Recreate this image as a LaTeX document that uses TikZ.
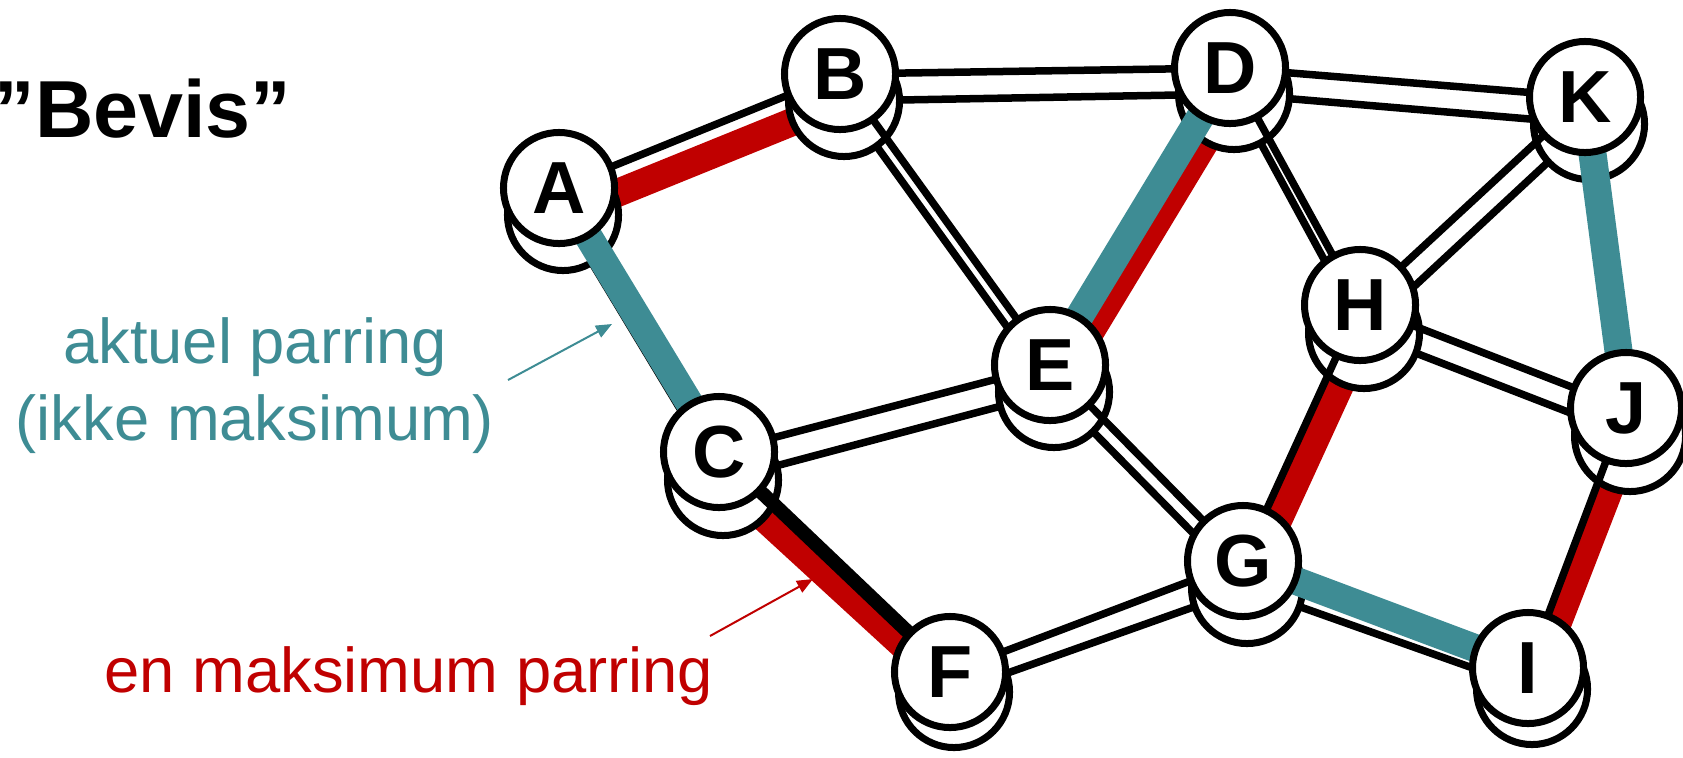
\documentclass[tikz,border=0pt]{standalone}
\usepackage{fontspec}
\setmainfont{Liberation Sans}
\usetikzlibrary{arrows.meta}
\definecolor{tealm}{RGB}{62,140,148}
\definecolor{redm}{RGB}{192,0,0}
\tikzset{
  vertex/.style={circle, draw, line width=0.07cm, fill=white, minimum size=1.11cm,
    inner sep=0pt, font=\bfseries\fontsize{21}{21}\selectfont},
  edge/.style={line width=0.075cm},
  curmatch/.style={line width=0.28cm, draw=tealm},
  maxmatch/.style={line width=0.28cm, draw=redm},
  pointer/.style={line width=0.02cm, -{Triangle[length=0.16cm,width=0.13cm]}},
  note/.style={inner sep=0pt, font=\fontsize{18}{18}\selectfont}
}
\begin{document}
\begin{tikzpicture}[x=0.01cm, y=-0.01cm]
\useasboundingbox (0,0) rectangle (1683,757);
% positions of the top copy, and of the copy shifted below it
\foreach \n/\x/\y/\d in {A/559/188/27, B/840/74/27, C/719/452/28, D/1230/68/26,
    E/1050/365/27, F/950/672/20, G/1243/561/27, H/1360/305/28, I/1528/668/21,
    J/1626/408/28, K/1585/97/27}{
  \coordinate (\n) at (\x,\y);
  \coordinate (s\n) at (\x+4,\y+\d);
}
% lower copy: the maximum matching
\foreach \u/\v in {A/C, B/D, B/E, C/E, D/H, D/K, E/G, F/G, G/I, H/J, H/K, J/K}
  \draw[edge] (s\u) -- (s\v);
\foreach \u/\v in {A/B, C/F, D/E, G/H, I/J}
  \draw[maxmatch] (s\u) -- (s\v);
\foreach \n in {A,...,K}
  \node[vertex] (low\n) at (s\n) {};
% top copy: the current matching
\foreach \u/\v in {A/B, B/D, B/E, C/E, D/H, D/K, E/G, F/G, G/H, H/J, H/K, I/J}
  \draw[edge] (\u) -- (\v);
\draw[edge, line width=0.14cm] (C) -- (F);
\foreach \u/\v in {A/C, D/E, G/I, J/K}
  \draw[curmatch] (\u) -- (\v);
\foreach \n in {A,...,K}
  \node[vertex] (top\n) at (\n) {\n};
% texts
\node[anchor=base west, inner sep=0pt, font=\bfseries\fontsize{23}{23}\selectfont]
  (title) at (-6,137) {”Bevis”};
\node[note, anchor=base, text=tealm] (cur1) at (255,363) {aktuel parring};
\node[note, anchor=base, text=tealm] (cur2) at (255,440) {(ikke maksimum)};
\node[note, anchor=base west, text=redm] (maxtext) at (104,692) {en maksimum parring};
\coordinate (curfrom) at (508,380);
\coordinate (curto) at (612,324);
\draw[pointer, tealm] (curfrom) -- (curto);
\coordinate (maxfrom) at (710,636);
\coordinate (maxto) at (813,579);
\draw[pointer, redm] (maxfrom) -- (maxto);
\end{tikzpicture}
\end{document}
